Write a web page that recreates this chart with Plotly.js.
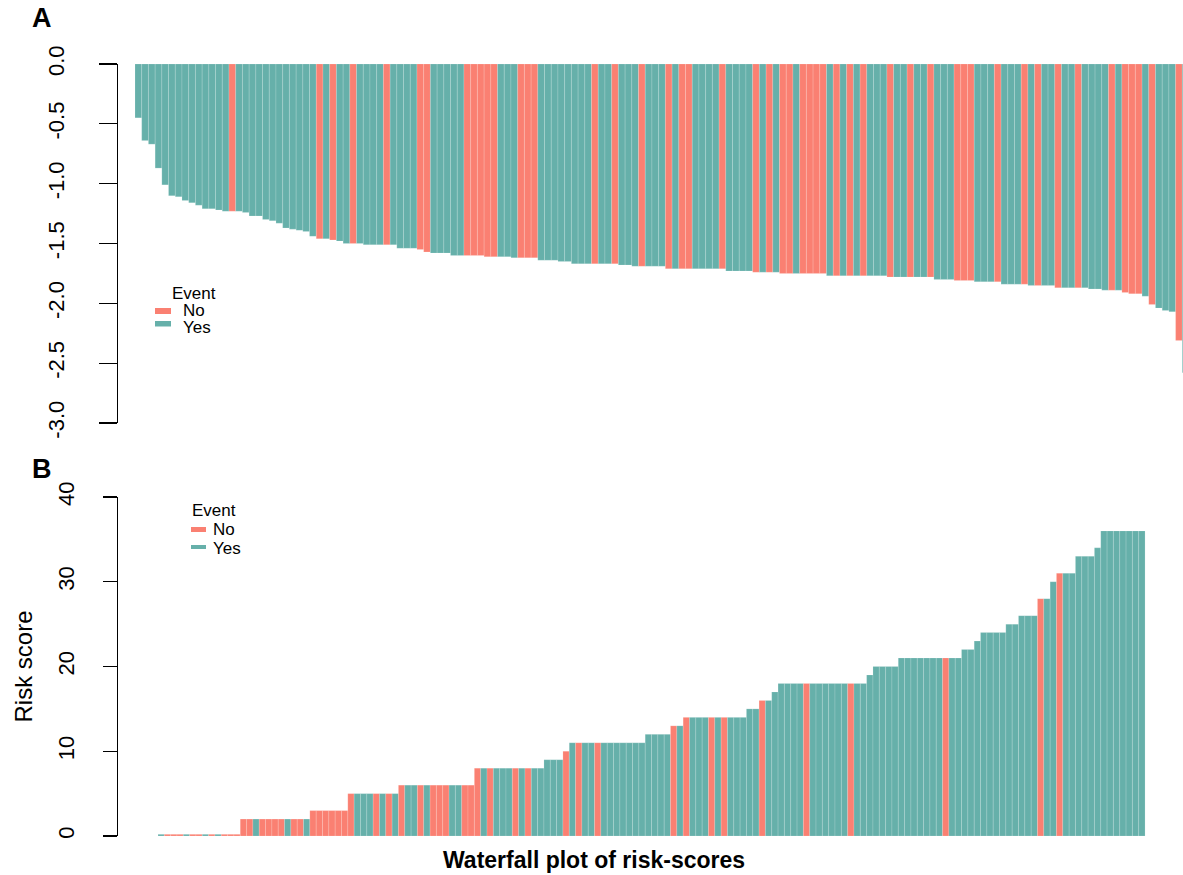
<!DOCTYPE html>
<html>
<head>
<meta charset="utf-8">
<script src="https://cdn.plot.ly/plotly-3.0.1.min.js"></script>
<style>
  html, body { margin: 0; padding: 0; background: #ffffff; }
  #chart { width: 1183px; height: 875px; }
</style>
</head>
<body>
<div id="chart"></div>
<script>
// ---------------- DATA ----------------
const eventLabels = ['No', 'Yes'];

// Panel A: score per patient (sorted), event flag (1 = Yes, 0 = No)
const riskA = [
  -0.45,-0.64,-0.67,-0.87,-1.01,-1.10,-1.11,-1.14,-1.16,-1.18,
  -1.21,-1.21,-1.22,-1.23,-1.23,-1.23,-1.24,-1.27,-1.27,-1.30,
  -1.31,-1.33,-1.37,-1.38,-1.39,-1.40,-1.44,-1.46,-1.46,-1.47,
  -1.48,-1.50,-1.50,-1.50,-1.51,-1.51,-1.51,-1.51,-1.51,-1.54,
  -1.54,-1.54,-1.55,-1.57,-1.58,-1.58,-1.58,-1.60,-1.60,-1.60,
  -1.60,-1.60,-1.61,-1.61,-1.61,-1.61,-1.62,-1.62,-1.62,-1.62,
  -1.64,-1.64,-1.64,-1.65,-1.65,-1.67,-1.67,-1.67,-1.67,-1.67,
  -1.67,-1.67,-1.68,-1.68,-1.69,-1.69,-1.69,-1.69,-1.69,-1.71,
  -1.71,-1.71,-1.71,-1.71,-1.71,-1.71,-1.71,-1.71,-1.73,-1.73,
  -1.73,-1.73,-1.74,-1.74,-1.74,-1.74,-1.75,-1.75,-1.75,-1.75,
  -1.75,-1.75,-1.75,-1.77,-1.77,-1.77,-1.77,-1.77,-1.77,-1.77,
  -1.77,-1.77,-1.78,-1.78,-1.78,-1.78,-1.78,-1.78,-1.78,-1.80,
  -1.80,-1.80,-1.81,-1.81,-1.81,-1.82,-1.82,-1.82,-1.82,-1.84,
  -1.84,-1.84,-1.84,-1.85,-1.85,-1.85,-1.85,-1.87,-1.87,-1.87,
  -1.87,-1.87,-1.88,-1.88,-1.89,-1.89,-1.89,-1.91,-1.92,-1.92,
  -1.94,-2.01,-2.04,-2.06,-2.07,-2.31,-2.58
];
const eventA = [
  1,1,1,1,1,1,1,1,1,1,
  1,1,1,1,0,1,1,1,1,1,
  1,1,1,1,1,1,1,0,1,0,
  1,1,0,1,1,1,1,0,1,1,
  1,1,0,0,1,1,1,1,1,0,
  0,0,0,0,1,1,1,0,0,0,
  1,1,1,1,1,1,1,1,0,1,
  1,0,1,1,1,0,1,1,1,0,
  1,0,0,1,1,1,1,0,1,1,
  1,1,0,1,0,1,0,0,1,0,
  0,0,0,1,0,1,0,1,0,1,
  1,1,0,1,1,0,1,1,0,1,
  1,1,0,0,0,1,1,1,0,1,
  1,1,0,1,0,1,1,0,1,1,
  0,1,1,1,1,0,1,0,0,0,
  1,0,1,1,1,0,1
];

// Panel B: risk score per patient (sorted), event flag (1 = Yes, 0 = No)
const riskB = [
  0.2,0.2,0.2,0.2,0.2,0.2,0.2,0.2,0.2,0.2,0.2,0.2,0.2,
  2,2,2,2,2,2,2,2,2,2,2,
  3,3,3,3,3,3,
  5,5,5,5,5,5,5,5,
  6,6,6,6,6,6,6,6,6,6,6,6,
  8,8,8,8,8,8,8,8,8,8,8,
  9,9,9,10,
  11,11,11,11,11,11,11,11,11,11,11,11,
  12,12,12,12,13,13,
  14,14,14,14,14,14,14,14,14,14,
  15,15,16,16,17,
  18,18,18,18,18,18,18,18,18,18,18,18,18,18,
  19,20,20,20,20,
  21,21,21,21,21,21,21,21,21,21,
  22,22,23,24,24,24,24,25,25,26,26,26,
  28,28,30,31,31,31,33,33,33,34,
  36,36,36,36,36,36,36
];
const eventB = [
  1,0,0,0,1,0,0,1,0,1,0,0,0,
  0,0,1,0,0,0,0,1,0,0,1,
  0,0,0,0,0,0,
  0,1,1,1,0,1,0,1,
  0,1,1,0,1,0,0,0,1,1,0,0,
  0,1,0,1,1,1,0,1,0,1,1,
  1,1,1,0,
  1,0,1,1,0,1,1,1,1,1,1,1,
  1,1,1,1,0,1,
  0,1,1,1,0,1,0,1,1,1,
  1,1,0,1,1,
  1,1,1,1,0,1,1,1,1,1,1,0,1,1,
  1,1,1,1,1,
  1,1,1,1,1,1,1,0,1,1,
  1,1,1,1,1,1,1,1,1,1,1,1,
  0,1,1,0,1,1,1,1,1,1,
  1,1,1,1,1,1,1
];

const tickValsA = [0, -0.5, -1, -1.5, -2, -2.5, -3];
const tickTextA = ['0.0', '-0.5', '-1.0', '-1.5', '-2.0', '-2.5', '-3.0'];
const tickValsB = [0, 10, 20, 30, 40];
const tickTextB = ['0', '10', '20', '30', '40'];

// ---------------- STYLE ----------------
const COLORS = { No: '#FA8072', Yes: '#66B0AA' };
const FONT = '"Liberation Sans", Arial, Helvetica, sans-serif';
const W = 1183, H = 875;
const px = v => v / W;          // pixel -> paper x
const py = v => 1 - v / H;      // pixel -> paper y

const colorOf = ev => ev.map(e => COLORS[eventLabels[e]]);
const idx = arr => arr.map((_, i) => i);

const traces = [
  {
    type: 'bar', x: idx(riskA), y: riskA, xaxis: 'x', yaxis: 'y',
    marker: { color: colorOf(eventA), line: { color: 'rgba(255,255,255,0.3)', width: 0.5 } },
    customdata: eventA.map(e => eventLabels[e]), textposition: 'none',
    hovertemplate: '%{y}<br>Event: %{customdata}<extra></extra>',
    showlegend: false
  },
  {
    type: 'bar', x: idx(riskB), y: riskB, xaxis: 'x2', yaxis: 'y2',
    marker: { color: colorOf(eventB), line: { color: 'rgba(255,255,255,0.3)', width: 0.5 } },
    customdata: eventB.map(e => eventLabels[e]), textposition: 'none',
    hovertemplate: '%{y}<br>Event: %{customdata}<extra></extra>',
    showlegend: false
  }
];

const axisCommon = {
  showgrid: false, zeroline: false, showline: true, linecolor: '#000', linewidth: 1.3,
  ticks: 'outside', tickcolor: '#000', tickwidth: 1.3, tickangle: -90,
  tickfont: { family: FONT, size: 22, color: '#000' }, tickmode: 'array'
};

function legendBlock(xEvent, xItems, yEvent, yNo, yYes, swX0, swX1, swNo, swYes) {
  const ann = [
    { text: 'Event', x: px(xEvent), y: py(yEvent) },
    { text: eventLabels[0], x: px(xItems), y: py(yNo) },
    { text: eventLabels[1], x: px(xItems), y: py(yYes) }
  ].map(a => Object.assign(a, {
    xref: 'paper', yref: 'paper', xanchor: 'left', yanchor: 'middle', showarrow: false,
    borderpad: 0, font: { family: FONT, size: 17, color: '#000' }
  }));
  const shp = [
    { y0: swNo[0], y1: swNo[1], c: COLORS.No },
    { y0: swYes[0], y1: swYes[1], c: COLORS.Yes }
  ].map(s => ({
    type: 'rect', xref: 'paper', yref: 'paper', x0: px(swX0), x1: px(swX1),
    y0: py(s.y1), y1: py(s.y0), fillcolor: s.c, line: { width: 0 }
  }));
  return { ann, shp };
}

const legA = legendBlock(171, 182, 293, 310.5, 328, 155, 171, [308, 314], [321, 326.5]);
const legB = legendBlock(191, 212, 511, 529.5, 548, 191, 206, [527, 532], [545, 549]);

const layout = {
  width: W, height: H, margin: { l: 0, r: 0, t: 0, b: 0 },
  paper_bgcolor: '#fff', plot_bgcolor: '#fff',
  bargap: 0, showlegend: false,
  font: { family: FONT, color: '#000' },
  xaxis: {
    domain: [px(118), 1], range: [-3.03, 155.6], anchor: 'y',
    visible: false, fixedrange: true
  },
  yaxis: Object.assign({}, axisCommon, {
    domain: [py(423), py(64)], range: [-3, 0], anchor: 'x',
    tickvals: tickValsA, ticktext: tickTextA, ticklen: 18, ticklabelstandoff: 26
  }),
  xaxis2: {
    domain: [px(118), 1], range: [-6.82, 161.5], anchor: 'y2',
    visible: false, fixedrange: true
  },
  yaxis2: Object.assign({}, axisCommon, {
    domain: [py(836), py(497)], range: [0, 40], anchor: 'x2',
    tickvals: tickValsB, ticktext: tickTextB, ticklen: 14, ticklabelstandoff: 20,
    title: { text: 'Risk score', font: { family: FONT, size: 24, color: '#000' }, standoff: 14 }
  }),
  annotations: [
    { text: '<b>A</b>', x: px(30), y: py(18), xanchor: 'left', yanchor: 'middle',
      xref: 'paper', yref: 'paper', showarrow: false, font: { family: FONT, size: 27, color: '#000' } },
    { text: '<b>B</b>', x: px(30), y: py(469), xanchor: 'left', yanchor: 'middle',
      xref: 'paper', yref: 'paper', showarrow: false, font: { family: FONT, size: 27, color: '#000' } },
    { text: '<b>Waterfall plot of risk-scores</b>', x: px(594), y: py(860), xanchor: 'center', yanchor: 'middle',
      xref: 'paper', yref: 'paper', showarrow: false, font: { family: FONT, size: 23, color: '#000' } }
  ].concat(legA.ann, legB.ann),
  shapes: [].concat(legA.shp, legB.shp)
};

Plotly.newPlot('chart', traces, layout, { displayModeBar: false, staticPlot: true });
</script>
</body>
</html>
